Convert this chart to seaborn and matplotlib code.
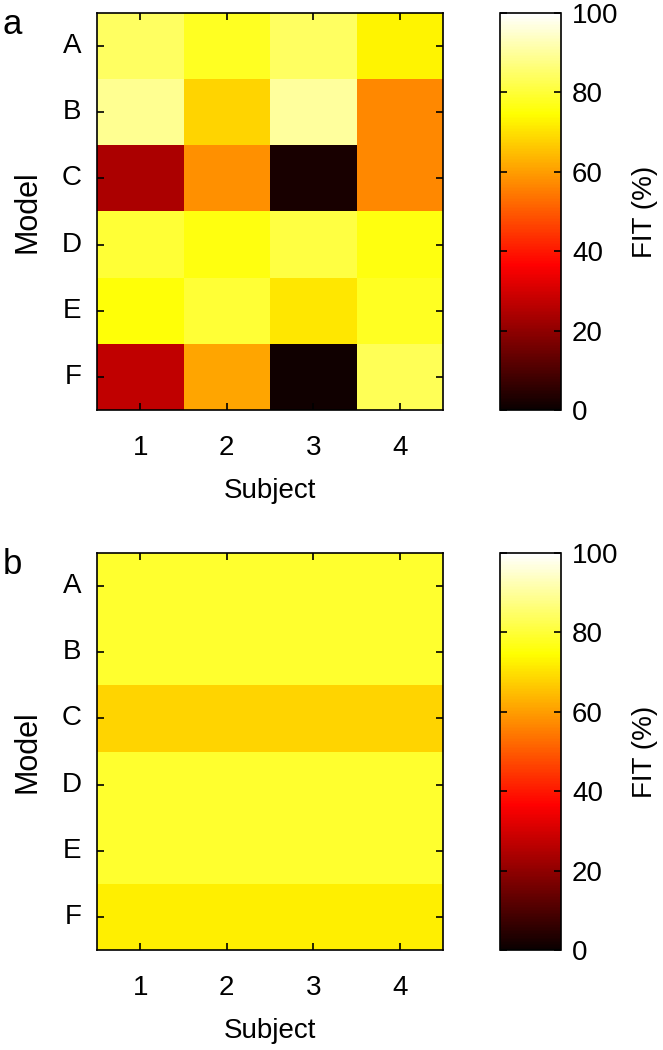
import numpy as np
import pandas as pd
import seaborn as sns
import matplotlib.pyplot as plt

models = ["A", "B", "C", "D", "E", "F"]
subjects = ["1", "2", "3", "4"]

# FIT (%) per model (rows) and subject (columns)
fit_a = [
    [84, 78, 84, 73],
    [89, 68, 90, 57],
    [24, 58, 2, 57],
    [80, 76, 81, 76],
    [75, 80, 71, 78],
    [27, 61, 1, 83],
]
fit_b = [
    [79, 79, 79, 79],
    [79, 79, 79, 79],
    [68, 68, 68, 68],
    [79, 79, 79, 79],
    [79, 79, 79, 79],
    [72, 72, 72, 72],
]
cbar_ticks = [0, 20, 40, 60, 80, 100]

sns.set_style("white")
plt.rcParams["font.family"] = ["Liberation Sans", "DejaVu Sans"]
plt.rcParams["text.color"] = "black"
plt.rcParams["axes.labelcolor"] = "black"
plt.rcParams["xtick.color"] = "black"
plt.rcParams["ytick.color"] = "black"

fig = plt.figure(figsize=(6.63, 10.5), dpi=100)

W, H = 663, 1050
panels = [("a", fit_a, 13), ("b", fit_b, 553)]

for letter, data, top in panels:
    ax = fig.add_axes([97 / W, (H - top - 397) / H, 346 / W, 397 / H])
    cax = fig.add_axes([500 / W, (H - top - 397) / H, 61 / W, 397 / H])
    df = pd.DataFrame(data, index=models, columns=subjects)
    sns.heatmap(df, ax=ax, cbar_ax=cax, cmap="hot", vmin=0, vmax=100,
                cbar_kws={"ticks": cbar_ticks})
    ax.set_axisbelow(False)
    cax.set_axisbelow(False)
    for s in ax.spines.values():
        s.set_visible(True)
        s.set_color("black")
        s.set_linewidth(1.2)
    ax.tick_params(direction="in", length=5, width=1.2, bottom=True, left=True,
                   top=True, right=True, labelsize=20)
    ax.tick_params(axis="x", pad=18)
    ax.tick_params(axis="y", pad=11)
    ax.set_yticklabels(models, rotation=0)
    ax.set_xticklabels(subjects, rotation=0)
    ax.set_xlabel("Subject", fontsize=20, labelpad=12)
    ax.set_ylabel("Model", fontsize=22, labelpad=14)

    cb = ax.collections[0].colorbar
    cb.outline.set_visible(True)
    cb.outline.set_linewidth(1.2)
    cb.outline.set_edgecolor("black")
    cax.tick_params(direction="in", length=5, width=1.2, labelsize=20,
                    left=True, right=True, pad=8)
    cb.set_label("FIT (%)", fontsize=20, labelpad=10)

    fig.text(3 / W, 1 - (top + 11) / H, letter, fontsize=25, va="center")

fig.savefig("out.png", dpi=100)
